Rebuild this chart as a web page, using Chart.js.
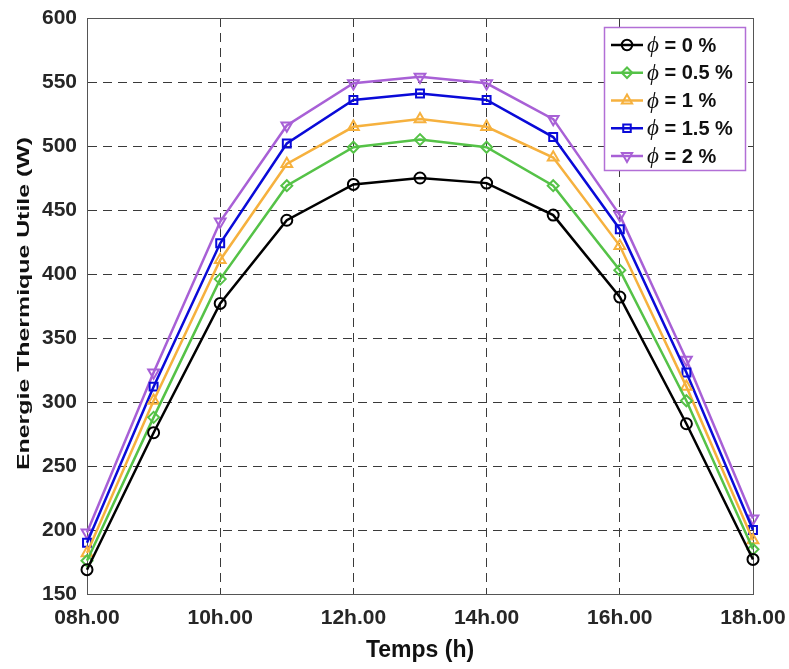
<!DOCTYPE html>
<html>
<head>
<meta charset="utf-8">
<script src="https://cdn.jsdelivr.net/npm/chart.js@4"></script>
<style>
  html, body { margin: 0; padding: 0; background: #ffffff; }
  #wrap { width: 789px; height: 669px; }
</style>
</head>
<body>
<div id="wrap"><canvas id="c" width="789" height="669"></canvas></div>
<script>
// ---- data ----
const hours = [8, 9, 10, 11, 12, 13, 14, 15, 16, 17, 18];
const xTicks = [8, 10, 12, 14, 16, 18];
const xTickLabels = ['08h.00', '10h.00', '12h.00', '14h.00', '16h.00', '18h.00'];
const phi0   = [169, 276, 377, 442, 470, 475, 471, 446, 382, 283, 177];
const phi05  = [176, 288, 396, 469, 499, 505, 499, 469, 403, 301, 185];
const phi1   = [182, 301, 411, 486, 515, 521, 515, 491, 422, 312, 192];
const phi15  = [190, 312, 424, 502, 536, 541, 536, 507, 435, 323, 200];
const phi2   = [198, 323, 441, 516, 549, 554, 549, 521, 446, 333, 209];
const seriesLabels = ['= 0 %', '= 0.5 %', '= 1 %', '= 1.5 %', '= 2 %'];
const yTitle = 'Energie Thermique Utile (W)';
const xTitle = 'Temps (h)';

const colors = ['#000000', '#55c247', '#f6b13e', '#0a0ad8', '#a860d6'];
const styles = ['circle', 'rectRot', 'triangle', 'rect', 'triangle'];
const rotations = [0, 0, 0, 0, 180];
const radii = [5.5, 5.5, 6.2, 5.6, 6.2];
const seriesValues = [phi0, phi05, phi1, phi15, phi2];

const datasets = seriesValues.map((vals, i) => ({
  label: seriesLabels[i],
  data: hours.map((h, k) => ({ x: h, y: vals[k] })),
  borderColor: colors[i],
  backgroundColor: 'rgba(0,0,0,0)',
  pointBackgroundColor: 'rgba(0,0,0,0)',
  pointBorderColor: colors[i],
  pointBorderWidth: 2,
  pointStyle: styles[i],
  pointRotation: rotations[i],
  pointRadius: radii[i],
  borderWidth: 2.5,
  tension: 0,
  fill: false,
  clip: false
}));

const TEXT = '#262626';
const GRID = '#3a3a3a';
const FONT = '"Liberation Sans", Arial, sans-serif';

const bgPlugin = {
  id: 'bg',
  beforeDraw(chart) {
    const ctx = chart.ctx;
    ctx.save();
    ctx.fillStyle = '#ffffff';
    ctx.fillRect(0, 0, chart.width, chart.height);
    ctx.restore();
  }
};

const framePlugin = {
  id: 'frame',
  beforeDatasetsDraw(chart) {
    const a = chart.chartArea, ctx = chart.ctx;
    ctx.save();
    ctx.strokeStyle = '#555555';
    ctx.lineWidth = 1;
    ctx.setLineDash([]);
    ctx.strokeRect(Math.round(a.left) + 0.5, Math.round(a.top) + 0.5,
                   Math.round(a.right - a.left), Math.round(a.bottom - a.top));
    ctx.restore();
  }
};

// y-axis title, drawn stretched along its length as in the reference
const yTitlePlugin = {
  id: 'yTitle',
  afterDraw(chart) {
    const ctx = chart.ctx;
    ctx.save();
    ctx.fillStyle = '#111111';
    ctx.font = 'bold 16.5px ' + FONT;
    const w = ctx.measureText(yTitle).width;
    ctx.translate(28.5, 303.5);
    ctx.rotate(-Math.PI / 2);
    ctx.scale(333 / w, 1);
    ctx.textAlign = 'center';
    ctx.textBaseline = 'alphabetic';
    ctx.fillText(yTitle, 0, 0);
    ctx.restore();
  }
};

const legendPlugin = {
  id: 'customLegend',
  afterDraw(chart) {
    const ctx = chart.ctx;
    const bx = 604, by = 27, bw = 141, bh = 143;
    ctx.save();
    ctx.fillStyle = '#ffffff';
    ctx.fillRect(bx, by, bw, bh);
    ctx.strokeStyle = '#b26fd6';
    ctx.lineWidth = 1.5;
    ctx.strokeRect(bx + 0.5, by + 0.5, bw, bh);
    chart.data.datasets.forEach((ds, i) => {
      const y = 45 + i * 27.75;
      ctx.strokeStyle = ds.borderColor;
      ctx.lineWidth = 2.5;
      ctx.beginPath();
      ctx.moveTo(611, y);
      ctx.lineTo(643, y);
      ctx.stroke();
      ctx.lineWidth = 2;
      ctx.fillStyle = 'rgba(0,0,0,0)';
      ctx.strokeStyle = ds.borderColor;
      Chart.helpers.drawPoint(ctx, {
        pointStyle: ds.pointStyle,
        rotation: ds.pointRotation,
        radius: ds.pointRadius * 0.95,
        borderWidth: 2
      }, 627, y);
      ctx.fillStyle = '#111111';
      ctx.textBaseline = 'middle';
      ctx.textAlign = 'left';
      ctx.font = 'italic 23px "Liberation Serif", "DejaVu Serif", serif';
      ctx.fillText('\u03D5', 647, y + 1);
      const w = ctx.measureText('\u03D5').width;
      ctx.font = 'bold 20px ' + FONT;
      ctx.fillText(' ' + ds.label, 647 + w, y + 1);
    });
    ctx.restore();
  }
};

new Chart(document.getElementById('c'), {
  type: 'line',
  data: { datasets },
  plugins: [bgPlugin, framePlugin, yTitlePlugin, legendPlugin],
  options: {
    responsive: false,
    animation: false,
    layout: { padding: { left: 0, right: 36, top: 18, bottom: 0 } },
    plugins: { legend: { display: false }, tooltip: { enabled: false } },
    scales: {
      x: {
        type: 'linear',
        min: 8, max: 18,
        afterBuildTicks(scale) { scale.ticks = xTicks.map(v => ({ value: v })); },
        afterFit(scale) { scale.height = 75; scale.paddingLeft = 0; scale.paddingRight = 0; },
        ticks: {
          callback: (v) => xTickLabels[xTicks.indexOf(v)],
          color: TEXT,
          padding: 12,
          maxRotation: 0,
          font: { family: FONT, size: 21, weight: 'bold' }
        },
        grid: { color: GRID, lineWidth: 1, drawTicks: false },
        border: { display: true, color: '#555555', dash: [9, 6] },
        title: {
          display: true, text: xTitle, color: '#111111',
          padding: { top: 0, bottom: 5 },
          font: { family: FONT, size: 23, weight: 'bold' }
        }
      },
      y: {
        min: 150, max: 600,
        ticks: {
          stepSize: 50,
          color: TEXT,
          padding: 10,
          font: { family: FONT, size: 21, weight: 'bold' }
        },
        afterFit(scale) { scale.width = 87; scale.paddingTop = 0; scale.paddingBottom = 0; },
        grid: { color: GRID, lineWidth: 1, drawTicks: false },
        border: { display: true, color: '#555555', dash: [9, 6] },
        title: { display: false }
      }
    }
  }
});
</script>
</body>
</html>
